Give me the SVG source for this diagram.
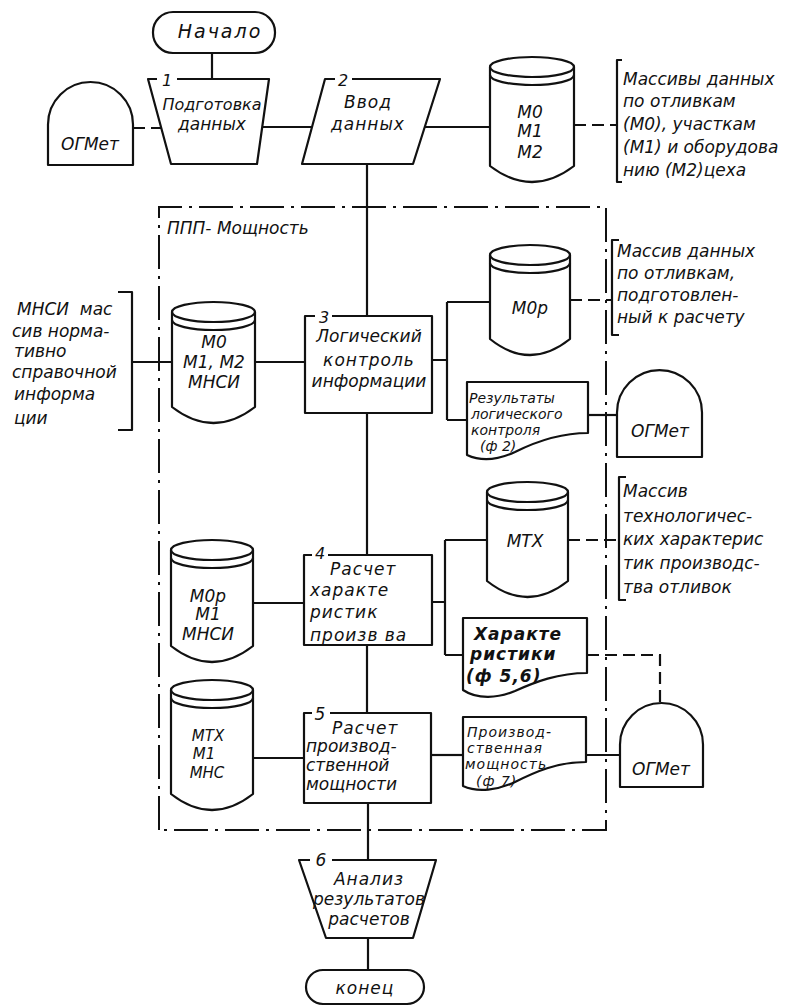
<svg xmlns="http://www.w3.org/2000/svg" width="792" height="1008" viewBox="0 0 792 1008">
<style>
.s{fill:none;stroke:#111;stroke-width:2.2;stroke-linejoin:round}
.d{fill:none;stroke:#111;stroke-width:2.2;stroke-dasharray:12 6}
.b{fill:none;stroke:#111;stroke-width:2;stroke-dasharray:34 7 3 7}
.t{font-family:"DejaVu Sans","Liberation Sans",sans-serif;font-style:italic;font-size:17px;fill:#111}
.m{text-anchor:middle}
.n{font-size:16px;font-style:italic}
.bx{letter-spacing:1px}
.bold{font-weight:bold}
.sm{font-size:14px}
.md{font-size:15px}
</style>
<rect width="792" height="1008" fill="#fff"/>
<g id="subroutine-boundary">
<path class="b" d="M159,830 V207 H606 V830 Z"/>
<text class="t" x="167" y="234">ППП- Мощность</text>
</g>
<g id="connectors">
<path class="s" d="M212,53 V79"/>
<path class="d" d="M133,128 H161"/>
<path class="s" d="M262,127 H312"/>
<path class="s" d="M425,127 H490"/>
<path class="d" d="M574,125 H617"/>
<path class="s" d="M367,164 V316"/>
<path class="s" d="M132,362 H172"/>
<path class="s" d="M255,362 H305"/>
<path class="s" d="M432,360 H447 M447,302 V420 M447,302 H490 M447,420 H467"/>
<path class="d" d="M570,300 H612"/>
<path class="s" d="M588,415 H617"/>
<path class="s" d="M367,413 V555"/>
<path class="s" d="M253,603 H304"/>
<path class="s" d="M432,602 H445 M445,540 V655 M445,540 H487 M445,655 H463"/>
<path class="d" d="M568,540 H619"/>
<path class="d" d="M587,655 H660 V703"/>
<path class="s" d="M367,645 V713"/>
<path class="s" d="M253,758 H304"/>
<path class="s" d="M431,755 H463"/>
<path class="s" d="M586,755 H620"/>
<path class="s" d="M368,803 V860"/>
<path class="s" d="M368,938 V970"/>
</g>
<g id="start">
<rect class="s" x="153" y="12" width="122" height="41" rx="20"/>
<text class="t m" x="220" y="38" style="font-size:19px;letter-spacing:2px">Начало</text>
</g>
<g id="ogmet-1">
<path class="s" d="M48,165 V124.5 A42.5,42.5 0 0 1 133,124.5 V165 Z"/>
<text class="t m" x="90" y="150">ОГМет</text>
</g>
<g id="step1">
<path class="s" d="M157,79 H148 L171,164 H257 L269,79 H177"/>
<text class="t n m" x="167" y="86">1</text>
<text class="t m" x="212" y="110" style="font-size:16px">Подготовка</text>
<text class="t m" x="212" y="130">данных</text>
</g>
<g id="step2">
<path class="s" d="M335,79 H325 L302,164 H413 L440,79 H352"/>
<text class="t n m" x="343" y="86">2</text>
<text class="t m bx" x="368" y="108">Ввод</text>
<text class="t m bx" x="368" y="130">данных</text>
</g>
<g id="db-m0m1m2">
<path class="s" d="M490,67 V166 Q532,198 574,166 V67"/>
<ellipse class="s" cx="532" cy="67" rx="42" ry="10"/>
<path class="s" d="M490,75 A42,10 0 0 0 574,75"/>
<text class="t m" x="530" y="118">М0</text>
<text class="t m" x="530" y="137">М1</text>
<text class="t m" x="530" y="158">М2</text>
</g>
<g id="note-arrays">
<path class="s" d="M622,60 H617 V182 H622"/>
<text class="t" x="623" y="85">Массивы данных</text>
<text class="t" x="623" y="107">по отливкам</text>
<text class="t" x="623" y="130">(М0), участкам</text>
<text class="t" x="623" y="153">(М1) и оборудова</text>
<text class="t" x="623" y="176">нию (М2)цеха</text>
</g>
<g id="note-mnsi">
<path class="s" d="M118,292 H132 V430 H118"/>
<text class="t" x="17" y="315" xml:space="preserve">МНСИ  мас</text>
<text class="t" x="12" y="337">сив норма-</text>
<text class="t" x="14" y="357">тивно</text>
<text class="t" x="12" y="378">справочной</text>
<text class="t" x="14" y="400">информа</text>
<text class="t" x="14" y="424">ции</text>
</g>
<g id="db-mnsi">
<path class="s" d="M172,312 V407 Q213.5,439 255,407 V312"/>
<ellipse class="s" cx="213.5" cy="312" rx="41.5" ry="10"/>
<path class="s" d="M172,320 A41.5,10 0 0 0 255,320"/>
<text class="t m" x="214" y="348">М0</text>
<text class="t m" x="214" y="368">М1, М2</text>
<text class="t m" x="214" y="388">МНСИ</text>
</g>
<g id="step3">
<path class="s" d="M315,316 H305 V413 H432 V316 H332"/>
<text class="t n m" x="324" y="323">3</text>
<text class="t m" x="369" y="342">Логический</text>
<text class="t m bx" x="369" y="366">контроль</text>
<text class="t m" x="369" y="387">информации</text>
</g>
<g id="db-m0p">
<path class="s" d="M490,255 V339 Q530,371 570,339 V255"/>
<ellipse class="s" cx="530" cy="255" rx="40" ry="10"/>
<path class="s" d="M490,263 A40,10 0 0 0 570,263"/>
<text class="t m" x="530" y="314">М0р</text>
</g>
<g id="note-m0p">
<path class="s" d="M619,240 H612 V335 H619"/>
<text class="t" x="617" y="257">Массив данных</text>
<text class="t" x="617" y="279">по отливкам,</text>
<text class="t" x="617" y="301">подготовлен-</text>
<text class="t" x="617" y="323">ный к расчету</text>
</g>
<g id="doc-results">
<path class="s" d="M467,382 H588 V433 C560,433 535,442 515,452 C500,459 482,462 467,455 Z"/>
<text class="t sm" x="469" y="403">Результаты</text>
<text class="t sm" x="471" y="419">логического</text>
<text class="t sm" x="471" y="435">контроля</text>
<text class="t sm" x="480" y="451">(ф 2)</text>
</g>
<g id="ogmet-2">
<path class="s" d="M617,457 V412.5 A42.5,42.5 0 0 1 702,412.5 V457 Z"/>
<text class="t m" x="660" y="437">ОГМет</text>
</g>
<g id="db-m0p-m1-mnsi">
<path class="s" d="M171,550 V646 Q212,678 253,646 V550"/>
<ellipse class="s" cx="212" cy="550" rx="41" ry="10"/>
<path class="s" d="M171,558 A41,10 0 0 0 253,558"/>
<text class="t m" x="208" y="602">М0р</text>
<text class="t m" x="208" y="620">М1</text>
<text class="t m" x="208" y="640">МНСИ</text>
</g>
<g id="step4">
<path class="s" d="M312,555 H304 V645 H432 V555 H328"/>
<text class="t n m" x="320" y="559">4</text>
<text class="t bx" x="330" y="575">Расчет</text>
<text class="t bx" x="310" y="596">характе</text>
<text class="t bx" x="310" y="618">ристик</text>
<text class="t bx" x="310" y="641">произв ва</text>
</g>
<g id="db-mtx">
<path class="s" d="M487,492 V581 Q527.5,613 568,581 V492"/>
<ellipse class="s" cx="527.5" cy="492" rx="40.5" ry="10"/>
<path class="s" d="M487,500 A40.5,10 0 0 0 568,500"/>
<text class="t m" x="525" y="547">МТХ</text>
</g>
<g id="note-mtx">
<path class="s" d="M626,477 H619 V600 H626"/>
<text class="t" x="623" y="497">Массив</text>
<text class="t" x="623" y="522">технологичес-</text>
<text class="t" x="623" y="545">ких характерис</text>
<text class="t" x="623" y="569">тик производс-</text>
<text class="t" x="623" y="593">тва отливок</text>
</g>
<g id="doc-characteristics">
<path class="s" d="M463,618 H587 V673 C558,673 535,682 515,691 C498,698 478,700 463,690 Z"/>
<text class="t bold bx" x="474" y="640">Характе</text>
<text class="t bold bx" x="470" y="660">ристики</text>
<text class="t bold bx" x="466" y="682">(ф 5,6)</text>
</g>
<g id="ogmet-3">
<path class="s" d="M620,787 V744.5 A41.5,41.5 0 0 1 703,744.5 V787 Z"/>
<text class="t m" x="661" y="775">ОГМет</text>
</g>
<g id="db-mtx-m1-mns">
<path class="s" d="M171,690 V794 Q212,826 253,794 V690"/>
<ellipse class="s" cx="212" cy="690" rx="41" ry="10"/>
<path class="s" d="M171,698 A41,10 0 0 0 253,698"/>
<text class="t md m" x="208" y="741">МТХ</text>
<text class="t md m" x="204" y="759">М1</text>
<text class="t md m" x="207" y="778">МНС</text>
</g>
<g id="step5">
<path class="s" d="M312,713 H304 V803 H431 V713 H330"/>
<text class="t m" x="320" y="720">5</text>
<text class="t bx" x="332" y="734">Расчет</text>
<text class="t" x="306" y="752">производ-</text>
<text class="t" x="306" y="771">ственной</text>
<text class="t" x="306" y="790">мощности</text>
</g>
<g id="doc-capacity">
<path class="s" d="M463,717 H586 V762 C557,762 535,772 515,782 C498,790 478,793 463,786 Z"/>
<text class="t sm bx" x="467" y="737">Производ-</text>
<text class="t sm bx" x="467" y="753">ственная</text>
<text class="t sm bx" x="465" y="769">мощность</text>
<text class="t sm bx" x="476" y="786">(ф 7)</text>
</g>
<g id="step6">
<path class="s" d="M310,860 H299 L326,938 H413 L436,860 H332"/>
<text class="t m" x="321" y="866">6</text>
<text class="t m bx" x="369" y="885">Анализ</text>
<text class="t m" x="369" y="905">результатов</text>
<text class="t m" x="369" y="925">расчетов</text>
</g>
<g id="end">
<rect class="s" x="306" y="970" width="118" height="34" rx="17"/>
<text class="t m bx" x="365" y="994">конец</text>
</g>
</svg>
